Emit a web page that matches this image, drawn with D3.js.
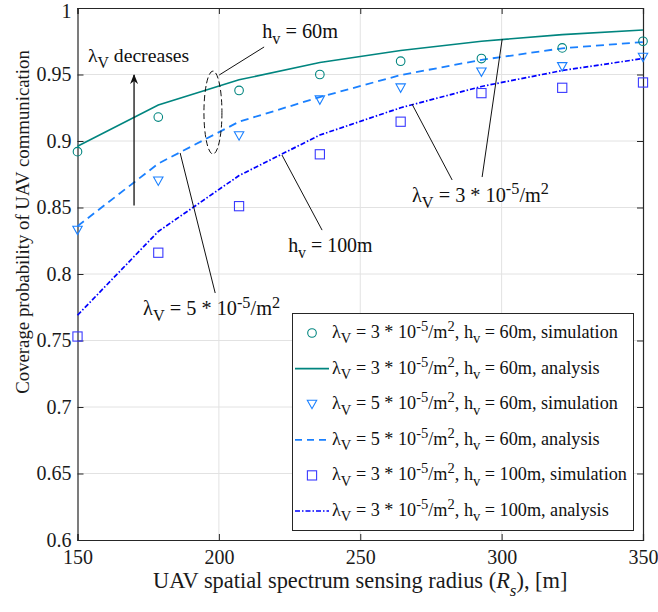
<!DOCTYPE html>
<html>
<head>
<meta charset="utf-8">
<script src="https://cdn.jsdelivr.net/npm/d3@7"></script>
<style>
  html, body { margin: 0; padding: 0; background: #fff; }
  svg { display: block; font-family: "Liberation Serif", "Times New Roman", serif; }
  svg text { font-family: "Liberation Serif", "Times New Roman", serif; }
</style>
</head>
<body>
<svg id="chart" width="658" height="612"></svg>
<script>
// Sensing radius R_s (m) at which each curve is evaluated
const radius = [150, 178.57, 207.14, 235.71, 264.29, 292.86, 321.43, 350];

// Coverage probability, lambda_V = 3e-5/m^2, h_v = 60 m
const simL3H60 = [0.892, 0.918, 0.938, 0.950, 0.960, 0.962, 0.970, 0.975];
const anaL3H60 = [0.896, 0.927, 0.946, 0.959, 0.968, 0.975, 0.980, 0.9835];
// lambda_V = 5e-5/m^2, h_v = 60 m
const simL5H60 = [0.833, 0.870, 0.904, 0.931, 0.940, 0.952, 0.956, 0.963];
const anaL5H60 = [0.836, 0.883, 0.9145, 0.933, 0.9496, 0.961, 0.9697, 0.9744];
// lambda_V = 3e-5/m^2, h_v = 100 m
const simL3H100 = [0.753, 0.816, 0.851, 0.890, 0.9145, 0.936, 0.940, 0.944];
const anaL3H100 = [0.769, 0.832, 0.874, 0.9045, 0.925, 0.941, 0.953, 0.962];

const xTicks = [150, 200, 250, 300, 350];
const yTicks = [0.6, 0.65, 0.7, 0.75, 0.8, 0.85, 0.9, 0.95, 1];

const legendLabels = [
  "λ_V = 3 * 10^-5/m^2, h_v = 60m, simulation",
  "λ_V = 3 * 10^-5/m^2, h_v = 60m, analysis",
  "λ_V = 5 * 10^-5/m^2, h_v = 60m, simulation",
  "λ_V = 5 * 10^-5/m^2, h_v = 60m, analysis",
  "λ_V = 3 * 10^-5/m^2, h_v = 100m, simulation",
  "λ_V = 3 * 10^-5/m^2, h_v = 100m, analysis"
];

const TEAL = "#00857f", LIGHT = "#1a80ff", BLUE = "#0000ff", SQ = "#3a3aff";

const series = [
  { kind: "marker", shape: "circle",   color: TEAL,  values: simL3H60 },
  { kind: "line",   dash: null,        color: TEAL,  values: anaL3H60, width: 1.6 },
  { kind: "marker", shape: "triangle", color: LIGHT, values: simL5H60 },
  { kind: "line",   dash: "8,5",       color: LIGHT, values: anaL5H60, width: 1.8 },
  { kind: "marker", shape: "square",   color: SQ,    values: simL3H100 },
  { kind: "line",   dash: "5,2,1.5,2", color: BLUE,  values: anaL3H100, width: 1.7 }
];

const svg = d3.select("#chart");
const plot = { left: 77.5, right: 643, top: 8, bottom: 540 };
const x = d3.scaleLinear().domain([150, 350]).range([plot.left, plot.right]);
const y = d3.scaleLinear().domain([0.6, 1]).range([plot.bottom, plot.top]);
const AXIS = "#262626";

// Write a label with TeX-like _sub and ^sup pieces into a <text> element
function texText(sel, str, size) {
  const parts = [];
  const re = /([_^])(-?\w)|([^_^]+)/g;
  let m;
  while ((m = re.exec(str)) !== null) {
    if (m[3] !== undefined) parts.push({ t: m[3], s: 0 });
    else parts.push({ t: m[2], s: m[1] === "_" ? 1 : -1 });
  }
  let shift = 0;
  parts.forEach(p => {
    const target = p.s === 1 ? size * 0.3 : p.s === -1 ? -size * 0.38 : 0;
    const ts = sel.append("tspan").text(p.t).attr("dy", target - shift);
    if (p.s !== 0) ts.attr("font-size", size * 0.8);
    shift = target;
  });
}

// Grid
const grid = svg.append("g").attr("stroke", "#e2e2e2").attr("stroke-width", 1);
xTicks.slice(1, -1).forEach(t => grid.append("line")
  .attr("x1", x(t)).attr("x2", x(t)).attr("y1", plot.top).attr("y2", plot.bottom));
yTicks.slice(1, -1).forEach(t => grid.append("line")
  .attr("x1", plot.left).attr("x2", plot.right).attr("y1", y(t)).attr("y2", y(t)));

// Axes with inward ticks, boxed
const tickLen = 6;
const fmtY = d => (d === 1 ? "1" : d3.format("")(+d.toFixed(2)));
const axB = svg.append("g").attr("transform", `translate(0,${plot.bottom})`)
  .call(d3.axisBottom(x).tickValues(xTicks).tickSize(-tickLen).tickPadding(10).tickFormat(d3.format("d")));
const axL = svg.append("g").attr("transform", `translate(${plot.left},0)`)
  .call(d3.axisLeft(y).tickValues(yTicks).tickSize(-tickLen).tickPadding(6).tickFormat(fmtY));
const axT = svg.append("g").attr("transform", `translate(0,${plot.top})`)
  .call(d3.axisTop(x).tickValues(xTicks).tickSize(-tickLen).tickFormat(""));
const axR = svg.append("g").attr("transform", `translate(${plot.right},0)`)
  .call(d3.axisRight(y).tickValues(yTicks).tickSize(-tickLen).tickFormat(""));
[axB, axL, axT, axR].forEach(a => {
  a.attr("font-family", null).attr("font-size", null);
  a.select(".domain").attr("stroke", AXIS).attr("stroke-width", 1.2);
  a.selectAll(".tick line").attr("stroke", AXIS).attr("stroke-width", 1);
  a.selectAll("text").attr("fill", "#1a1a1a").attr("font-size", 20)
    .style("font-family", "'Liberation Serif', serif");
});
axB.selectAll(".tick text").attr("dy", "0.71em");
axL.selectAll(".tick").filter(d => d === 1).select("text").attr("dy", "0.45em");

// Axis titles
const xTitle = svg.append("text").attr("x", x(250)).attr("y", 588)
  .attr("text-anchor", "middle").attr("font-size", 22.4).attr("fill", "#1a1a1a");
xTitle.append("tspan").text("UAV spatial spectrum sensing radius (");
xTitle.append("tspan").text("R").attr("font-style", "italic");
xTitle.append("tspan").text("s").attr("font-style", "italic").attr("font-size", 17).attr("dy", 8);
xTitle.append("tspan").text("), [m]").attr("dy", -8);

svg.append("text").attr("transform", "translate(22,222) rotate(-90)")
  .attr("text-anchor", "middle").attr("font-size", 18.8).attr("fill", "#1a1a1a")
  .attr("dy", "0.35em")
  .text("Coverage probability of UAV communication");

// Marker shapes
function drawMarker(g, shape, cx, cy, color) {
  if (shape === "circle") {
    g.append("circle").attr("cx", cx).attr("cy", cy).attr("r", 4.3)
      .attr("fill", "none").attr("stroke", color).attr("stroke-width", 1.1);
  } else if (shape === "triangle") {
    g.append("path").attr("d", `M${cx - 4.7},${cy - 3.9} L${cx + 4.7},${cy - 3.9} L${cx},${cy + 4.5} Z`)
      .attr("fill", "none").attr("stroke", color).attr("stroke-width", 1.1);
  } else {
    g.append("rect").attr("x", cx - 4.6).attr("y", cy - 4.6).attr("width", 9.2).attr("height", 9.2)
      .attr("fill", "none").attr("stroke", color).attr("stroke-width", 1.1);
  }
}

// Series
const line = d3.line().x((d, i) => x(radius[i])).y(d => y(d));
const marks = svg.append("g");
series.forEach(s => {
  if (s.kind === "line") {
    marks.append("path").datum(s.values).attr("d", line)
      .attr("fill", "none").attr("stroke", s.color).attr("stroke-width", s.width)
      .attr("stroke-dasharray", s.dash);
  }
});
series.forEach(s => {
  if (s.kind === "marker") {
    s.values.forEach((v, i) => drawMarker(marks, s.shape, x(radius[i]), y(v), s.color));
  }
});

// Annotations
const ann = svg.append("g").attr("stroke", "#111").attr("stroke-width", 1);
svg.append("defs").append("marker").attr("id", "head").attr("viewBox", "0 0 10 10")
  .attr("refX", 9).attr("refY", 5).attr("markerWidth", 10).attr("markerHeight", 10)
  .attr("markerUnits", "userSpaceOnUse").attr("orient", "auto")
  .append("path").attr("d", "M0,1 L10,5 L0,9 L3,5 Z").attr("fill", "#111");
ann.append("line").attr("x1", x(170)).attr("y1", y(0.8515)).attr("x2", x(170)).attr("y2", y(0.9496))
  .attr("stroke-width", 1.3).attr("marker-end", "url(#head)");
ann.append("ellipse").attr("cx", x(197.9)).attr("cy", y(0.9214)).attr("rx", 9).attr("ry", 41.5)
  .attr("fill", "none").attr("stroke-dasharray", "6,3");
const leaders = [
  [200.1, 0.9496, 216.0, 0.9707],
  [186.3, 0.891, 198.7, 0.7857],
  [222.3, 0.8895, 236.5, 0.833],
  [268.3, 0.9278, 282.5, 0.8707],
  [300.2, 0.9767, 293.1, 0.8729]
];
leaders.forEach(l => ann.append("line")
  .attr("x1", x(l[0])).attr("y1", y(l[1])).attr("x2", x(l[2])).attr("y2", y(l[3])));

const notes = [
  { t: "λ_V decreases", x: 153.7, y: 0.9594, size: 19.7 },
  { t: "h_v = 60m", x: 215.3, y: 0.9774, size: 20.3 },
  { t: "λ_V = 5 * 10^-5/m^2", x: 173.2, y: 0.769, size: 20.3 },
  { t: "h_v = 100m", x: 224.5, y: 0.8165, size: 19.9 },
  { t: "λ_V = 3 * 10^-5/m^2", x: 268.3, y: 0.8541, size: 20.3 }
];
notes.forEach(n => {
  const el = svg.append("text").attr("x", x(n.x)).attr("y", y(n.y))
    .attr("font-size", n.size).attr("fill", "#111");
  texText(el, n.t, n.size);
});

// Legend
const lg = svg.append("g");
lg.append("rect").attr("x", 292.5).attr("y", 313.5).attr("width", 341).attr("height", 217)
  .attr("fill", "#fff").attr("stroke", AXIS).attr("stroke-width", 1);
series.forEach((s, i) => {
  const cy = 333 + i * 35.6;
  if (s.kind === "line") {
    lg.append("line").attr("x1", 295).attr("x2", 329).attr("y1", cy).attr("y2", cy)
      .attr("stroke", s.color).attr("stroke-width", s.width)
      .attr("stroke-dasharray", s.dash === "8,5" ? "7,5" : s.dash);
  } else {
    drawMarker(lg, s.shape, 312, cy, s.color);
  }
  const el = lg.append("text").attr("x", 332).attr("y", cy + 5)
    .attr("font-size", 18.2).attr("fill", "#111");
  texText(el, legendLabels[i], 18.2);
});
</script>
</body>
</html>
